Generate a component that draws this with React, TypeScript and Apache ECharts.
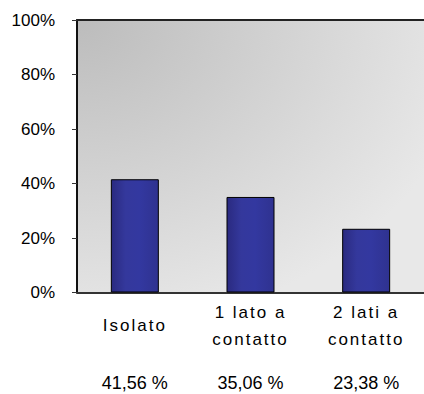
import React, { useEffect, useRef } from "react";
import * as echarts from "echarts";

const categories = ["Isolato", "1 lato a\ncontatto", "2 lati a\ncontatto"];
const values = [41.56, 35.06, 23.38];
const percentLabels = ["41,56 %", "35,06 %", "23,38 %"];
const yTicks = [0, 20, 40, 60, 80, 100];

export default function App() {
  const ref = useRef<HTMLDivElement>(null);
  useEffect(() => {
    if (!ref.current) return;
    document.body.style.margin = "0";
    document.body.style.overflow = "hidden";
    const chart = echarts.init(ref.current, undefined, { renderer: "svg" });
    const font = "Liberation Sans, Arial, sans-serif";
    chart.setOption({
      animation: false,
      grid: {
        left: 77,
        right: -3,
        top: 20,
        bottom: 101.5,
        show: true,
        borderWidth: 0,
        backgroundColor: {
          type: "radial",
          x: 0,
          y: 0,
          r: 1.15,
          colorStops: [
            { offset: 0, color: "#bcbcbc" },
            { offset: 1, color: "#e8e8e8" },
          ],
        },
      },
      xAxis: [
        {
          type: "category",
          data: categories.map((c) =>
            c.indexOf("\n") < 0
              ? { value: c, textStyle: { padding: [13, 0, 0, 0] } }
              : c
          ),
          position: "bottom",
          axisLine: { lineStyle: { color: "#333333", width: 2 } },
          axisTick: { show: false },
          axisLabel: {
            color: "#010101",
            fontFamily: font,
            fontSize: 17,
            lineHeight: 27,
            margin: 6,
            interval: 0,
          },
        },
        {
          type: "category",
          data: percentLabels,
          position: "bottom",
          gridIndex: 0,
          axisLine: { show: false },
          axisTick: { show: false },
          axisLabel: {
            color: "#000",
            fontFamily: font,
            fontSize: 18,
            lineHeight: 20,
            margin: 80,
            interval: 0,
          },
        },
        {
          type: "category",
          data: categories,
          position: "top",
          axisLine: { lineStyle: { color: "#222222", width: 2 } },
          axisTick: { show: false },
          axisLabel: { show: false },
        },
      ],
      yAxis: {
        type: "value",
        min: yTicks[0],
        max: yTicks[yTicks.length - 1],
        interval: 20,
        axisLine: { show: true, lineStyle: { color: "#111111", width: 2 } },
        axisTick: { show: true, length: 5, lineStyle: { color: "#333333" } },
        splitLine: { show: false },
        axisLabel: {
          color: "#000",
          fontFamily: font,
          fontSize: 17,
          margin: 22,
          formatter: "{value}%",
        },
      },
      series: [
        {
          type: "bar",
          xAxisIndex: 0,
          data: values,
          barWidth: 48,
          itemStyle: {
            borderColor: "#000",
            borderWidth: 1,
            color: {
              type: "linear",
              x: 0,
              y: 0,
              x2: 1,
              y2: 0,
              colorStops: [
                { offset: 0, color: "#2a2a80" },
                { offset: 0.3, color: "#34389c" },
                { offset: 0.6, color: "#3338a0" },
                { offset: 1, color: "#2f3290" },
              ],
            },
          },
        },
      ],
    });
    return () => chart.dispose();
  }, []);
  return (
    <>
      <style>{`text[fill="#010101"]{letter-spacing:2px}`}</style>
      <div
        ref={ref}
        style={{ position: "absolute", left: 0, top: 0, width: 424, height: 394 }}
      />
    </>
  );
}
